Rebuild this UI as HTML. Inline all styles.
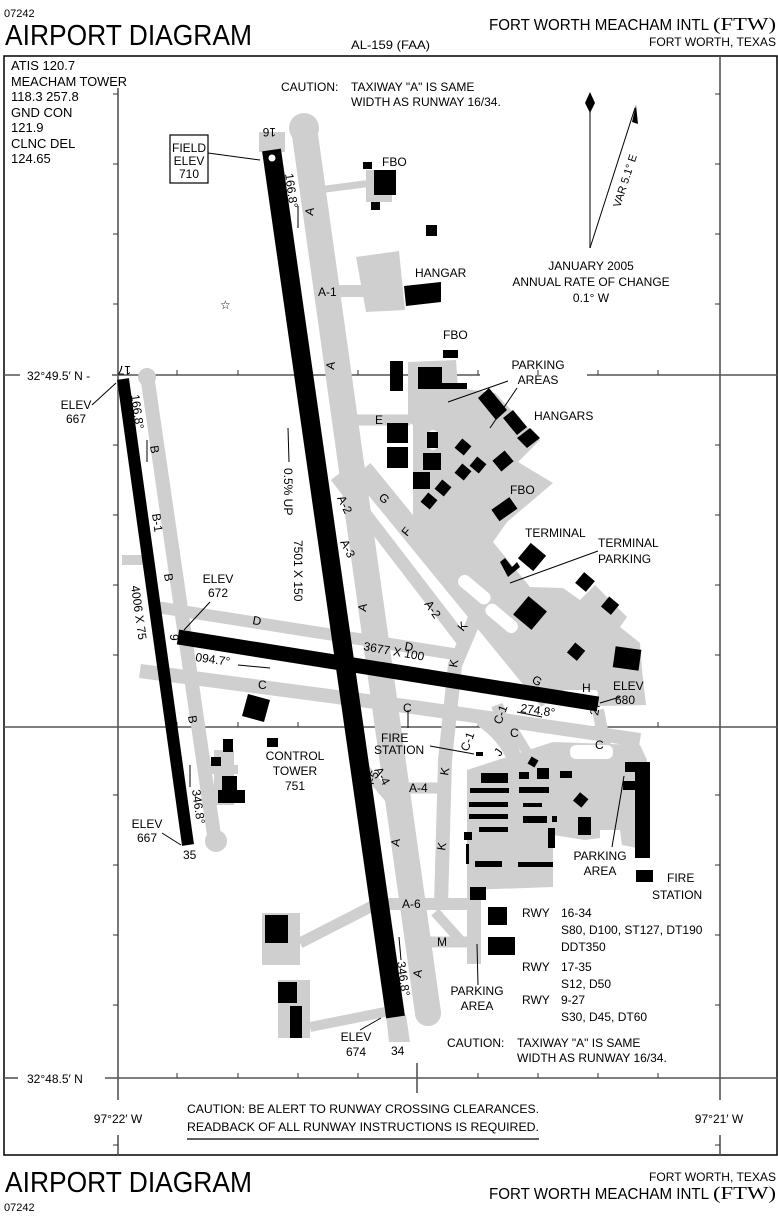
<!DOCTYPE html>
<html><head><meta charset="utf-8"><style>
html,body{margin:0;padding:0;background:#fff}
svg{display:block}
text{font-family:"Liberation Sans",sans-serif;fill:#000}
.l{font-size:12px}
.m{font-size:13px}
.t{font-size:11px}
</style></head><body>
<svg width="778" height="1232" viewBox="0 0 778 1232" xmlns="http://www.w3.org/2000/svg">
<rect width="778" height="1232" fill="#fff"/>
<text x="4" y="17" class="t">07242</text>
<text x="5" y="45" font-size="29" textLength="247" lengthAdjust="spacingAndGlyphs">AIRPORT DIAGRAM</text>
<text x="351" y="49" class="l" textLength="79" lengthAdjust="spacingAndGlyphs">AL-159 (FAA)</text>
<text x="489" y="30" font-size="16" textLength="220" lengthAdjust="spacingAndGlyphs">FORT WORTH MEACHAM INTL</text>
<text x="713" y="30" font-size="18" style="font-family:'Liberation Serif',serif" textLength="63" lengthAdjust="spacingAndGlyphs">(FTW)</text>
<text x="649" y="46" class="l" textLength="127" lengthAdjust="spacingAndGlyphs">FORT WORTH, TEXAS</text>

<rect x="4" y="56" width="773" height="1099" fill="none" stroke="#000" stroke-width="1.5"/>

<g stroke="#555" stroke-width="1.6" fill="none">
<line x1="4" y1="375" x2="480" y2="375"/>
<line x1="587" y1="375" x2="777" y2="375"/>
<line x1="4" y1="727" x2="777" y2="727"/>
<line x1="105" y1="1078" x2="777" y2="1078"/>
<line x1="4" y1="1078" x2="18" y2="1078"/>
<line x1="118" y1="88" x2="118" y2="1100"/>
<line x1="118" y1="1135" x2="118" y2="1155"/>
<line x1="720" y1="56" x2="720" y2="1100"/>
<line x1="720" y1="1135" x2="720" y2="1155"/>
<line x1="417" y1="1063" x2="417" y2="1093"/>
</g>
<g stroke="#333" stroke-width="1">
<path d="M177 375v-5M238 375v-5M298 375v-5M358 375v-5M478 375v-5M538 375v-5M598 375v-5M658 375v-5"/>
<path d="M177 727v-5M238 727v-5M298 727v-5M358 727v-5M478 727v-5M538 727v-5M598 727v-5M658 727v-5"/>
<path d="M177 1078v-5M238 1078v-5M298 1078v-5M358 1078v-5M478 1078v-5M538 1078v-5M598 1078v-5M658 1078v-5"/>
<path d="M118 94h-5M118 164h-5M118 234h-5M118 304h-5M118 445h-5M118 515h-5M118 585h-5M118 655h-5M118 795h-5M118 865h-5M118 935h-5M118 1005h-5M118 1145h-5"/>
<path d="M720 94h-5M720 164h-5M720 234h-5M720 304h-5M720 445h-5M720 515h-5M720 585h-5M720 655h-5M720 795h-5M720 865h-5M720 935h-5M720 1005h-5M720 1145h-5"/>
</g>

<g fill="#cfcfcf" stroke="none">
<rect x="366" y="170" width="26" height="32"/>
<polygon points="356,257 399,251 405,310 366,312"/>
<polygon points="408,362 456,360 458,388 495,393 540,440 518,462 553,483 507,522 493,542 530,587 563,588 580,600 595,585 627,617 620,627 640,643 642,670 646,705 600,706 545,697 413,533 413,425 408,422"/>
<polygon points="467,770 553,742 640,745 647,760 648,850 622,845 620,830 600,830 600,838 585,840 553,835 553,887 467,890"/>
<rect x="467" y="880" width="14" height="84"/>
<rect x="262" y="913" width="38" height="52"/>
<rect x="278" y="980" width="32" height="58"/>
<rect x="208" y="765" width="30" height="9"/>
<rect x="214" y="750" width="20" height="55"/>
</g>
<g stroke="#cfcfcf" fill="none" stroke-linecap="round">
<line x1="304" y1="128" x2="428" y2="1013" stroke-width="26"/>
<line x1="147" y1="375" x2="215" y2="842" stroke-width="14"/>
</g>
<g fill="#cfcfcf"><circle cx="147" cy="377" r="9"/><circle cx="216" cy="841" r="11"/><circle cx="304" cy="128" r="15"/><circle cx="428" cy="1013" r="13"/></g>
<g stroke="#cfcfcf" fill="none" stroke-linecap="butt">
<line x1="318" y1="190" x2="372" y2="183" stroke-width="7"/>
<line x1="320" y1="291" x2="370" y2="291" stroke-width="12"/>
<line x1="340" y1="420" x2="410" y2="420" stroke-width="11"/>
<line x1="336" y1="476" x2="462" y2="640" stroke-width="13"/>
<line x1="362" y1="470" x2="550" y2="700" stroke-width="22"/>
<polyline points="475,618 455,665 445,760 441,905" stroke-width="14"/>
<line x1="150" y1="606" x2="460" y2="655" stroke-width="12"/>
<polyline points="140,671 420,708 640,740" stroke-width="14"/>
<line x1="122" y1="560" x2="150" y2="560" stroke-width="10"/>
<line x1="378" y1="788" x2="445" y2="788" stroke-width="11"/>
<line x1="366" y1="770" x2="395" y2="805" stroke-width="10"/>
<line x1="385" y1="904" x2="480" y2="904" stroke-width="12"/>
<line x1="420" y1="942" x2="480" y2="942" stroke-width="11"/>
<line x1="435" y1="912" x2="460" y2="940" stroke-width="10"/>
<line x1="388" y1="898" x2="300" y2="943" stroke-width="11"/>
<line x1="310" y1="1027" x2="385" y2="1012" stroke-width="10"/>
<line x1="497" y1="705" x2="520" y2="770" stroke-width="12"/>
<path d="M480,720 Q510,740 517,772" stroke-width="12"/>
<line x1="512" y1="728" x2="533" y2="762" stroke-width="10"/>
<line x1="598" y1="710" x2="605" y2="745" stroke-width="12"/>
</g>
<rect x="259" y="132" width="26" height="20" fill="#cfcfcf"/>
<polygon points="386,1015 406,1015 410,1042 389,1042" fill="#cfcfcf"/>
<g fill="#fff">
<rect x="455" y="583" width="38" height="13" rx="6" transform="rotate(40 474 590)"/>
<rect x="483" y="612" width="38" height="13" rx="6" transform="rotate(40 502 618)"/>
<rect x="562" y="690" width="36" height="7" rx="3"/>
<rect x="428" y="430" width="10" height="20" rx="5"/>
<rect x="570" y="745" width="43" height="14" rx="6"/>
</g>

<g stroke="#000" fill="none" stroke-linecap="butt">
<line x1="271.5" y1="150" x2="395.5" y2="1017" stroke-width="19"/>
<line x1="123" y1="379" x2="188" y2="845" stroke-width="12"/>
<line x1="178" y1="637" x2="598" y2="704" stroke-width="15"/>
</g>
<circle cx="272" cy="158" r="3.5" fill="#fff"/>

<g fill="#000">
<rect x="374" y="170" width="22" height="25"/>
<rect x="363" y="162" width="9" height="7"/>
<rect x="371" y="202" width="9" height="8"/>
<rect x="426" y="225" width="11" height="11"/>
<polygon points="404,286 441,282 441,302 406,306"/>
<rect x="390" y="361" width="13" height="30"/>
<rect x="418" y="367" width="24" height="22"/>
<rect x="442" y="383" width="25" height="6"/>
<rect x="443" y="350" width="15" height="8"/>
<polygon points="478,398 489,388 507,410 496,420"/>
<polygon points="503,418 513,410 527,427 517,435"/>
<polygon points="517,438 530,428 540,438 527,448"/>
<rect x="387" y="423" width="21" height="20"/>
<rect x="387" y="447" width="21" height="21"/>
<rect x="427" y="432" width="11" height="16"/>
<rect x="423" y="453" width="18" height="17"/>
<rect x="413" y="472" width="17" height="17"/>
<rect x="457" y="441" width="12" height="12" transform="rotate(40 463 447)"/>
<rect x="472" y="459" width="12" height="12" transform="rotate(40 478 465)"/>
<rect x="457" y="466" width="12" height="12" transform="rotate(40 463 472)"/>
<rect x="495" y="454" width="16" height="14" transform="rotate(-40 503 461)"/>
<rect x="437" y="482" width="12" height="12" transform="rotate(40 443 488)"/>
<rect x="423" y="495" width="12" height="12" transform="rotate(40 429 501)"/>
<rect x="494" y="502" width="22" height="14" transform="rotate(-35 505 510)"/>
<rect x="522" y="547" width="20" height="20" transform="rotate(40 532 557)"/>
<polygon points="500,562 505,558 512,567 517,562 520,567 508,577"/>
<rect x="578" y="575" width="14" height="14" transform="rotate(40 585 582)"/>
<rect x="604" y="599" width="13" height="13" transform="rotate(40 610 605)"/>
<rect x="518" y="601" width="24" height="24" transform="rotate(40 530 613)"/>
<rect x="570" y="645" width="13" height="13" transform="rotate(40 576 651)"/>
<rect x="614" y="648" width="26" height="21" transform="rotate(8 627 659)"/>
<polygon points="248,694 270,700 264,722 242,716"/>
<rect x="223" y="739" width="10" height="13"/>
<rect x="211" y="757" width="10" height="9"/>
<rect x="222" y="776" width="15" height="15"/>
<rect x="218" y="790" width="27" height="13"/>
<rect x="267" y="738" width="11" height="9"/>
<rect x="481" y="773" width="27" height="10"/>
<rect x="470" y="788" width="39" height="5"/>
<rect x="469" y="802" width="39" height="5"/>
<rect x="469" y="814" width="39" height="5"/>
<rect x="479" y="827" width="29" height="5"/>
<rect x="475" y="861" width="27" height="6"/>
<rect x="519" y="787" width="30" height="6"/>
<rect x="523" y="803" width="19" height="4"/>
<rect x="523" y="816" width="24" height="7"/>
<rect x="552" y="816" width="5" height="6"/>
<rect x="548" y="828" width="7" height="20"/>
<rect x="518" y="862" width="35" height="5"/>
<rect x="519" y="772" width="10" height="7"/>
<rect x="537" y="768" width="12" height="11"/>
<rect x="560" y="771" width="12" height="7"/>
<rect x="529" y="758" width="8" height="8" transform="rotate(30 533 762)"/>
<rect x="464" y="832" width="8" height="8"/>
<rect x="466" y="844" width="3" height="20"/>
<rect x="476" y="752" width="7" height="4"/>
<rect x="575" y="794" width="11" height="11" transform="rotate(40 580 800)"/>
<rect x="578" y="817" width="13" height="18"/>
<rect x="635" y="762" width="15" height="96"/>
<rect x="625" y="762" width="12" height="10"/>
<rect x="623" y="781" width="17" height="9"/>
<rect x="636" y="870" width="17" height="12"/>
<rect x="470" y="887" width="16" height="13"/>
<rect x="488" y="907" width="19" height="18"/>
<rect x="488" y="937" width="27" height="18"/>
<rect x="265" y="915" width="23" height="28"/>
<rect x="278" y="982" width="19" height="21"/>
<rect x="290" y="1006" width="12" height="32"/>
</g>

<text x="220" y="309" font-size="12">☆</text>

<g stroke="#000" stroke-width="1" fill="none">
<line x1="208" y1="153" x2="260" y2="160"/>
<rect x="170" y="135" width="38" height="48" stroke-width="1.2"/>
<line x1="298" y1="206" x2="298" y2="228"/>
<line x1="590" y1="112" x2="590" y2="248" stroke="#555" stroke-width="1.5"/>
<line x1="590" y1="248" x2="635" y2="108"/>
<line x1="508" y1="381" x2="448" y2="402"/>
<line x1="517" y1="388" x2="490" y2="428"/>
<line x1="598" y1="551" x2="510" y2="583"/>
<line x1="92" y1="405" x2="116" y2="383"/>
<line x1="288" y1="428" x2="289" y2="462"/>
<line x1="147" y1="440" x2="147" y2="462"/>
<line x1="210" y1="602" x2="184" y2="630"/>
<line x1="238" y1="665" x2="270" y2="668"/>
<line x1="190" y1="787" x2="190" y2="765"/>
<line x1="162" y1="833" x2="181" y2="845"/>
<line x1="542" y1="717" x2="517" y2="712"/>
<line x1="620" y1="697" x2="600" y2="703"/>
<line x1="430" y1="746" x2="474" y2="754"/>
<line x1="401" y1="960" x2="399" y2="937"/>
<line x1="478" y1="985" x2="477" y2="944"/>
<line x1="360" y1="1030" x2="381" y2="1018"/>
<line x1="612" y1="847" x2="624" y2="776"/>
<line x1="408" y1="710" x2="408" y2="728"/>
<line x1="187" y1="1139" x2="539" y2="1139" stroke-width="1.2"/>
</g>
<polygon points="590,92 595,103 590,113 585,103" fill="#000"/>
<polygon points="636,105 638,124 632,122" fill="#000"/>

<text x="11" y="70" class="m">ATIS  120.7</text>
<text x="11" y="86" class="m" textLength="116" lengthAdjust="spacingAndGlyphs">MEACHAM TOWER</text>
<text x="11" y="101" class="m">118.3  257.8</text>
<text x="11" y="117" class="m">GND CON</text>
<text x="11" y="132" class="m">121.9</text>
<text x="11" y="148" class="m">CLNC DEL</text>
<text x="11" y="163" class="m">124.65</text>
<text x="281" y="91" class="l">CAUTION:</text>
<text x="351" y="91" class="l">TAXIWAY "A" IS SAME</text>
<text x="351" y="106" class="l">WIDTH AS RUNWAY 16/34.</text>
<g class="l" text-anchor="middle">
<text x="189" y="152">FIELD</text><text x="189" y="165">ELEV</text><text x="189" y="178">710</text>
</g>
<text class="l" transform="translate(276,128) rotate(180)">16</text>
<text class="l" transform="translate(285,174) rotate(82)">166.8°</text>
<g class="l">
<text transform="translate(313,216) rotate(-82)">A</text>
<text transform="translate(334,370) rotate(-82)">A</text>
<text transform="translate(366,612) rotate(-82)">A</text>
<text transform="translate(399,847) rotate(-82)">A</text>
<text transform="translate(421,978) rotate(-82)">A</text>
<text x="318" y="296">A-1</text>
<text x="382" y="166">FBO</text>
<text x="443" y="339">FBO</text>
<text x="415" y="277">HANGAR</text>
</g>
<g class="l" text-anchor="middle">
<text x="591" y="270">JANUARY  2005</text>
<text x="591" y="286">ANNUAL RATE OF CHANGE</text>
<text x="591" y="302">0.1° W</text>
<text x="538" y="369">PARKING</text><text x="538" y="384">AREAS</text>
</g>
<text class="t" transform="translate(620,208) rotate(-72)">VAR 5.1° E</text>
<g class="l">
<text x="534" y="420">HANGARS</text>
<text x="375" y="424">E</text>
<text x="510" y="494">FBO</text>
<text x="525" y="537">TERMINAL</text>
<text x="598" y="547">TERMINAL</text>
<text x="598" y="563">PARKING</text>
<text transform="translate(284,468) rotate(90)">0.5% UP</text>
<text transform="translate(294,540) rotate(90)">7501 X 150</text>
<text transform="translate(337,498) rotate(64)">A-2</text>
<text transform="translate(340,542) rotate(64)">A-3</text>
<text transform="translate(378,498) rotate(45)">G</text>
<text transform="translate(407,537) rotate(-50)">F</text>
<text transform="translate(424,604) rotate(55)">A-2</text>
<text transform="translate(463,632) rotate(-50)">K</text>
<text transform="translate(457,668) rotate(-80)">K</text>
<text transform="translate(252,624) rotate(10)">D</text>
<text transform="translate(404,650) rotate(10)">D</text>
<text transform="translate(363,650) rotate(10)">3677 X 100</text>
<text transform="translate(195,661) rotate(8)">094.7°</text>
<text x="258" y="689">C</text>
<text x="403" y="712">C</text>
<text transform="translate(501,725) rotate(-70)">C-1</text>
<text x="510" y="737">C</text>
<text x="595" y="749">C</text>
<text transform="translate(468,752) rotate(-70)">C-1</text>
<text transform="translate(500,757) rotate(-55)">J</text>
<text transform="translate(448,776) rotate(-80)">K</text>
<text transform="translate(445,851) rotate(-80)">K</text>
<text transform="translate(531,682) rotate(30)">G</text>
<text x="582" y="692">H</text>
<text x="613" y="690">ELEV</text>
<text x="615" y="704">680</text>
<text transform="translate(598,716) rotate(-80)">27</text>
<text transform="translate(520,712) rotate(8)">274.8°</text>
<text x="381" y="742">FIRE</text>
<text x="374" y="754">STATION</text>
<text x="409" y="792">A-4</text>
<text transform="translate(374,770) rotate(60)">A-4</text>
<text transform="translate(370,790) rotate(-60)">A-5</text>
</g>
<g class="l" text-anchor="middle">
<text x="295" y="760">CONTROL</text><text x="295" y="775">TOWER</text><text x="295" y="790">751</text>
<text x="76" y="409">ELEV</text><text x="76" y="423">667</text>
<text x="218" y="583">ELEV</text><text x="218" y="597">672</text>
<text x="147" y="828">ELEV</text><text x="147" y="842">667</text>
<text x="477" y="995">PARKING</text><text x="477" y="1010">AREA</text>
<text x="356" y="1041">ELEV</text><text x="356" y="1056">674</text>
<text x="600" y="860">PARKING</text><text x="600" y="875">AREA</text>
</g>
<g class="l">
<text transform="translate(131,366) rotate(180)">17</text>
<text transform="translate(131,395) rotate(82)">166.8°</text>
<text transform="translate(150,446) rotate(82)">B</text>
<text transform="translate(152,514) rotate(82)">B-1</text>
<text transform="translate(164,574) rotate(82)">B</text>
<text transform="translate(188,716) rotate(82)">B</text>
<text transform="translate(131,586) rotate(82)">4006 X 75</text>
<text transform="translate(170,634) rotate(90)">9</text>
<text transform="translate(192,790) rotate(82)">346.8°</text>
<text x="183" y="859">35</text>
<text x="402" y="908">A-6</text>
<text x="437" y="946">M</text>
<text transform="translate(397,962) rotate(82)">346.8°</text>
<text x="391" y="1055">34</text>
<text x="522" y="917">RWY</text><text x="561" y="917">16-34</text>
<text x="561" y="934">S80, D100, ST127, DT190</text>
<text x="561" y="951">DDT350</text>
<text x="522" y="971">RWY</text><text x="561" y="971">17-35</text>
<text x="561" y="988">S12, D50</text>
<text x="522" y="1004">RWY</text><text x="561" y="1004">9-27</text>
<text x="561" y="1021">S30, D45, DT60</text>
<text x="447" y="1047">CAUTION:</text>
<text x="517" y="1047">TAXIWAY "A" IS SAME</text>
<text x="517" y="1062">WIDTH AS RUNWAY 16/34.</text>
<text x="667" y="882">FIRE</text>
<text x="652" y="899">STATION</text>
</g>
<rect x="20" y="367" width="92" height="14" fill="#fff"/>
<text x="27" y="380" class="l">32°49.5′ N -</text>
<text class="l" transform="translate(131,366) rotate(180)">17</text>
<text x="27" y="1083" class="l">32°48.5′ N</text>
<text x="118" y="1123" class="l" text-anchor="middle">97°22′ W</text>
<text x="719" y="1123" class="l" text-anchor="middle">97°21′ W</text>
<text x="187" y="1113" class="l" textLength="352" lengthAdjust="spacingAndGlyphs">CAUTION:  BE ALERT TO RUNWAY CROSSING CLEARANCES.</text>
<text x="187" y="1131" class="l" textLength="352" lengthAdjust="spacingAndGlyphs">READBACK OF ALL RUNWAY INSTRUCTIONS IS REQUIRED.</text>

<text x="5" y="1192" font-size="29" textLength="247" lengthAdjust="spacingAndGlyphs">AIRPORT DIAGRAM</text>
<text x="4" y="1211" class="t">07242</text>
<text x="649" y="1181" class="l" textLength="127" lengthAdjust="spacingAndGlyphs">FORT WORTH, TEXAS</text>
<text x="489" y="1199" font-size="16" textLength="220" lengthAdjust="spacingAndGlyphs">FORT WORTH MEACHAM INTL</text>
<text x="713" y="1199" font-size="18" style="font-family:'Liberation Serif',serif" textLength="63" lengthAdjust="spacingAndGlyphs">(FTW)</text>
</svg>
</body></html>
